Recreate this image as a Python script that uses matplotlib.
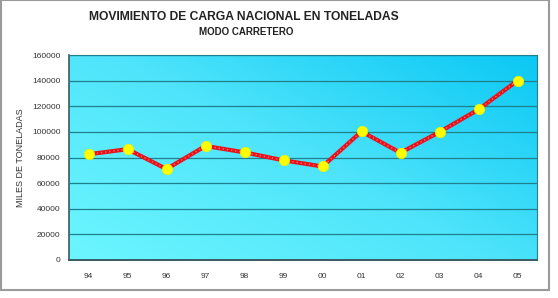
import numpy as np
import matplotlib.pyplot as plt
from matplotlib.colors import LinearSegmentedColormap
from matplotlib.patches import Rectangle

plt.rcParams['font.family'] = ['Liberation Sans', 'DejaVu Sans']

# datos
anios = ['94', '95', '96', '97', '98', '99', '00', '01', '02', '03', '04', '05']
toneladas = [82500, 86500, 71000, 89000, 84000, 77800, 73000, 100300, 83700, 99900, 117500, 140000]
y_ticks = [0, 20000, 40000, 60000, 80000, 100000, 120000, 140000, 160000]

fig = plt.figure(figsize=(5.58, 2.98), dpi=100)
ax = fig.add_axes([69 / 558, 1 - 260 / 298, 468 / 558, 205 / 298])

# fondo degradado (abajo-izquierda claro, arriba-derecha oscuro)
cmap = LinearSegmentedColormap.from_list('fondo', ['#6cf6ff', '#4fe4fb', '#0bc8f4'])
gx, gy = np.meshgrid(np.linspace(0, 1, 200), np.linspace(0, 1, 200))
grad = 0.55 * gx + 0.45 * gy
ax.imshow(grad, cmap=cmap, extent=[-0.5, 11.5, 0, 160000], origin='lower',
          aspect='auto', zorder=0)

x = np.arange(len(anios))
ax.plot(x, toneladas, color='#e8101a', lw=3.0, zorder=3, solid_capstyle='round')
ax.plot(x, toneladas, color='#ff6a6a', lw=1.0, ls=(0, (1, 2)), zorder=3)
ax.plot(x, toneladas, ls='none', marker='o', ms=7.5, mfc='#ffff00', mec='#f0f000',
        mew=0.5, zorder=4)

ax.set_xlim(-0.5, 11.5)
ax.set_ylim(0, 160000)
ax.set_yticks(y_ticks)
ax.set_yticklabels([str(v) for v in y_ticks], fontsize=6, color='#333333')
ax.set_xticks(x)
ax.set_xticklabels(anios, fontsize=6, color='#333333')
ax.tick_params(length=0, pad=9)
ax.tick_params(axis='y', pad=6)
ax.grid(axis='y', color='#1f7f8c', lw=0.9, zorder=1)
ax.set_axisbelow(False)
for s in ax.spines.values():
    s.set_color('#2a7f87')
    s.set_linewidth(0.8)
ax.spines['bottom'].set_color('#3a5a60')
ax.spines['bottom'].set_linewidth(1.4)
ax.spines['left'].set_color('#3a5a60')
ax.spines['left'].set_linewidth(1.2)

ax.set_ylabel('MILES DE TONELADAS', fontsize=6.5, color='#333333', labelpad=5)

fig.text(244 / 558, 1 - 17 / 298, 'MOVIMIENTO DE CARGA NACIONAL EN TONELADAS',
         ha='center', va='center', fontsize=8.7, fontweight='bold', color='#222222')
fig.text(246 / 558, 1 - 32 / 298, 'MODO CARRETERO', ha='center', va='center',
         fontsize=7, fontweight='bold', color='#222222')

# marco del grafico
fig.patches.append(Rectangle((0.002, 1 - 290 / 298), 548 / 558, 290 / 298,
                             transform=fig.transFigure, fill=False,
                             ec='#9a9a9a', lw=1.5))

fig.savefig('out.png', dpi=100)
